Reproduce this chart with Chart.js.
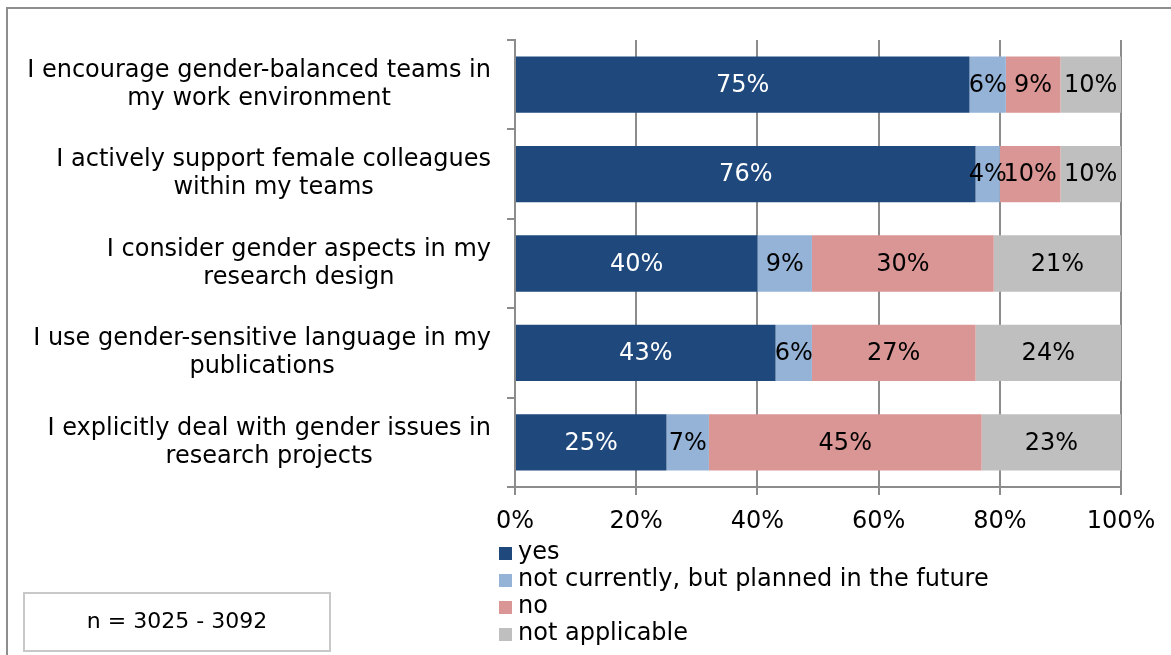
<!DOCTYPE html>
<html>
<head>
<meta charset="utf-8">
<script src="https://cdn.jsdelivr.net/npm/chart.js@4"></script>
<style>
  body { margin: 0; background: #fff; }
  #wrap { position: relative; width: 1171px; height: 655px; overflow: hidden; }
  #frame { position: absolute; left: 6px; top: 7px; width: 1200px; height: 700px; border: 2px solid #8e8e8e; }
  #nbox { position: absolute; left: 23px; top: 592px; width: 304px; height: 56px; border: 2px solid #c8c8c8;
          font: 22px "DejaVu Sans", Verdana, sans-serif; color: #000; text-align: center; line-height: 54px; }
  canvas { position: absolute; left: 0; top: 0; }
</style>
</head>
<body>
<div id="wrap">
  <div id="frame"></div>
  <canvas id="chart" width="1171" height="655"></canvas>
  <div id="nbox">n = 3025 - 3092</div>
</div>
<script>
var categories = [
    ['I encourage gender-balanced teams in', 'my work environment'],
    ['I actively support female colleagues', 'within my teams'],
    ['I consider gender aspects in my', 'research design'],
    ['I use gender-sensitive language in my', 'publications'],
    ['I explicitly deal with gender issues in', 'research projects']
];
var yes = [75, 76, 40, 43, 25];
var planned = [6, 4, 9, 6, 7];
var no = [9, 10, 30, 27, 45];
var notApplicable = [10, 10, 21, 24, 23];
var xTicks = [0, 20, 40, 60, 80, 100];

var FONT = '"DejaVu Sans", Verdana, sans-serif';
var SIZE = 24;

// draws the % numbers in the middle of each segment
var barLabels = {
    id: 'barLabels',
    afterDatasetsDraw: function(chart) {
        var ctx = chart.ctx;
        ctx.save();
        ctx.font = SIZE + 'px ' + FONT;
        ctx.textAlign = 'center';
        ctx.textBaseline = 'middle';
        chart.data.datasets.forEach(function(ds, di) {
            var meta = chart.getDatasetMeta(di);
            meta.data.forEach(function(bar, i) {
                ctx.fillStyle = di === 0 ? '#ffffff' : '#000000';
                ctx.fillText(ds.data[i] + '%', (bar.x + bar.base) / 2, bar.y + 1);
            });
        });
        ctx.restore();
    }
};

// category labels: block right-aligned to the axis, lines centered inside it
var catLabels = {
    id: 'catLabels',
    afterDraw: function(chart) {
        var ctx = chart.ctx;
        var y = chart.scales.y;
        ctx.save();
        ctx.font = SIZE + 'px ' + FONT;
        ctx.fillStyle = '#000';
        ctx.textAlign = 'center';
        ctx.textBaseline = 'middle';
        categories.forEach(function(lines, i) {
            var w = Math.max.apply(null, lines.map(function(l) { return ctx.measureText(l).width; }));
            var cx = chart.chartArea.left - 24 - w / 2;
            var cy = y.getPixelForValue(i);
            var lh = 28;
            lines.forEach(function(l, k) {
                ctx.fillText(l, cx, cy + (k - (lines.length - 1) / 2) * lh);
            });
        });
        ctx.restore();
    }
};

// vertical legend under the x axis
var sideLegend = {
    id: 'sideLegend',
    afterDraw: function(chart) {
        var ctx = chart.ctx;
        ctx.save();
        ctx.font = SIZE + 'px ' + FONT;
        ctx.textBaseline = 'middle';
        var x0 = chart.chartArea.left - 16;
        var y0 = chart.chartArea.bottom + 66;
        chart.data.datasets.forEach(function(ds, i) {
            var yy = y0 + i * 27;
            ctx.fillStyle = ds.backgroundColor;
            ctx.fillRect(x0, yy - 6, 13, 13);
            ctx.fillStyle = '#000';
            ctx.fillText(ds.label, x0 + 19, yy);
        });
        ctx.restore();
    }
};

var ctx = document.getElementById('chart').getContext('2d');
new Chart(ctx, {
    type: 'bar',
    data: {
        labels: categories.map(function(c) { return c.join(' '); }),
        datasets: [
            { label: 'yes', data: yes, backgroundColor: '#1F497D' },
            { label: 'not currently, but planned in the future', data: planned, backgroundColor: '#95B3D7' },
            { label: 'no', data: no, backgroundColor: '#DA9694' },
            { label: 'not applicable', data: notApplicable, backgroundColor: '#BFBFBF' }
        ]
    },
    options: {
        indexAxis: 'y',
        responsive: false,
        animation: false,
        devicePixelRatio: 1,
        layout: { padding: { left: 0, top: 40, right: 50, bottom: 123 } },
        datasets: { bar: { categoryPercentage: 1, barPercentage: 0.63, borderWidth: 0 } },
        plugins: {
            legend: { display: false },
            tooltip: { enabled: false }
        },
        scales: {
            x: {
                stacked: true,
                min: 0,
                max: 100,
                afterBuildTicks: function(scale) {
                    scale.ticks = xTicks.map(function(v) { return { value: v }; });
                },
                afterFit: function(scale) { scale.height = 45; },
                grid: { color: '#8c8c8c', lineWidth: 2, tickLength: 8 },
                border: { color: '#8c8c8c', width: 2 },
                ticks: {
                    padding: 12,
                    color: '#000',
                    maxRotation: 0,
                    font: { family: FONT, size: SIZE },
                    callback: function(v) { return v + '%'; }
                }
            },
            y: {
                stacked: true,
                afterFit: function(scale) { scale.width = 515; },
                grid: { offset: true, drawOnChartArea: false, color: '#8c8c8c', lineWidth: 2, tickLength: 8 },
                border: { color: '#8c8c8c', width: 2 },
                ticks: { display: false }
            }
        }
    },
    plugins: [barLabels, catLabels, sideLegend]
});
</script>
</body>
</html>
